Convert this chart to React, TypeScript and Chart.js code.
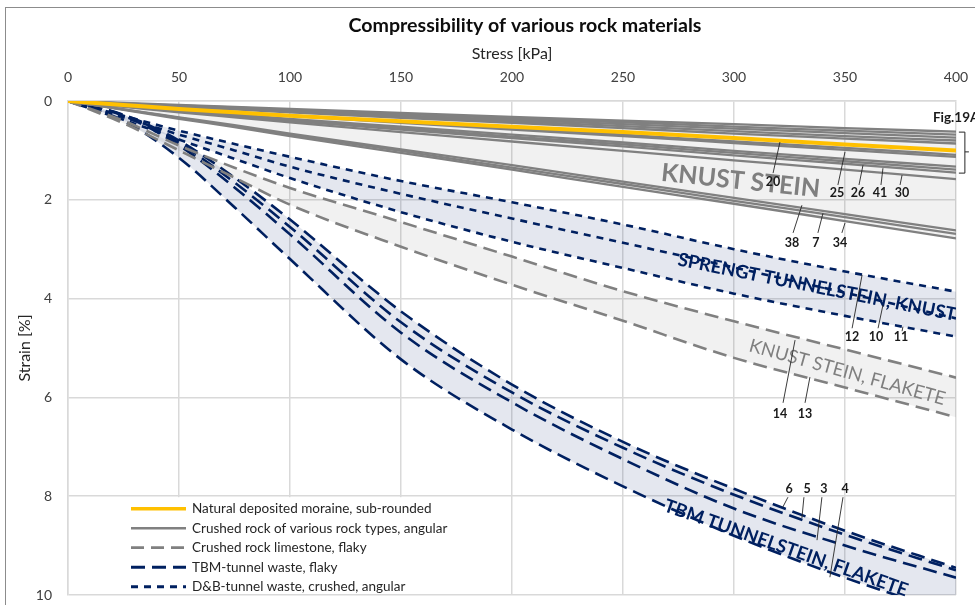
import React, { useEffect, useRef } from "react";
import { Chart, registerables } from "chart.js";

Chart.register(...registerables);

// ---------- data ----------
const stress = [0, 25, 50, 75, 100, 150, 200, 250, 300, 350, 400];

const moraine = [0, 0.08, 0.16, 0.23, 0.3, 0.41, 0.52, 0.63, 0.75, 0.88, 1.0];

const crushed1 = [0, 0.04, 0.08, 0.12, 0.16, 0.24, 0.32, 0.4, 0.47, 0.55, 0.62];
const crushed2 = [0, 0.05, 0.09, 0.13, 0.18, 0.26, 0.35, 0.43, 0.52, 0.6, 0.68];
const crushed3 = [0, 0.05, 0.1, 0.15, 0.19, 0.29, 0.38, 0.47, 0.56, 0.65, 0.74];
const crushed4 = [0, 0.06, 0.11, 0.16, 0.21, 0.31, 0.41, 0.51, 0.61, 0.71, 0.8];
const crushed5 = [0, 0.06, 0.12, 0.17, 0.23, 0.34, 0.44, 0.55, 0.66, 0.76, 0.86];
const crushed6 = [0, 0.08, 0.15, 0.22, 0.29, 0.42, 0.55, 0.68, 0.82, 0.95, 1.09];
const crushed7 = [0, 0.08, 0.16, 0.23, 0.3, 0.44, 0.58, 0.71, 0.85, 0.99, 1.13];
const crushed8 = [0, 0.1, 0.19, 0.27, 0.36, 0.52, 0.68, 0.84, 1.01, 1.17, 1.33];
const crushed9 = [0, 0.1, 0.2, 0.29, 0.38, 0.55, 0.72, 0.88, 1.05, 1.22, 1.39];
const crushed10 = [0, 0.11, 0.21, 0.3, 0.4, 0.58, 0.75, 0.92, 1.1, 1.27, 1.45];
const crushed11 = [0, 0.12, 0.23, 0.33, 0.43, 0.63, 0.82, 1.01, 1.2, 1.39, 1.58];
const crushed12 = [0, 0.17, 0.33, 0.49, 0.66, 0.98, 1.3, 1.63, 1.96, 2.29, 2.62];
const crushed13 = [0, 0.17, 0.34, 0.51, 0.68, 1.01, 1.35, 1.68, 2.02, 2.35, 2.69];
const crushed14 = [0, 0.18, 0.36, 0.53, 0.71, 1.05, 1.39, 1.74, 2.08, 2.43, 2.78];

const limestone1 = [0, 0.4, 0.9, 1.35, 1.76, 2.45, 3.15, 3.85, 4.46, 5.03, 5.6];
const limestone2 = [0, 0.45, 1.0, 1.55, 2.1, 2.95, 3.72, 4.45, 5.2, 5.8, 6.4];

const dnb1 = [0, 0.3, 0.6, 0.87, 1.13, 1.62, 2.05, 2.5, 3.0, 3.45, 3.86];
const dnb2 = [0, 0.33, 0.68, 1.0, 1.33, 1.88, 2.38, 2.87, 3.37, 3.88, 4.4];
const dnb3 = [0, 0.38, 0.78, 1.17, 1.56, 2.25, 2.85, 3.38, 3.9, 4.35, 4.77];

const tbm6 = [0, 0.28, 0.8, 1.55, 2.4, 4.26, 5.74, 6.9, 7.85, 8.7, 9.45];
const tbm5 = [0, 0.29, 0.85, 1.65, 2.55, 4.48, 5.9, 7.02, 7.97, 8.78, 9.5];
const tbm3 = [0, 0.3, 0.9, 1.75, 2.7, 4.69, 6.1, 7.25, 8.25, 9.0, 9.65];
const tbm4 = [0, 0.4, 1.15, 2.15, 3.2, 5.23, 6.65, 7.8, 8.8, 9.65, 10.4];

const crushedSeries = [
  crushed1, crushed2, crushed3, crushed4, crushed5, crushed6, crushed7,
  crushed8, crushed9, crushed10, crushed11, crushed12, crushed13, crushed14,
];
const limestoneSeries = [limestone1, limestone2];
const dnbSeries = [dnb1, dnb2, dnb3];
const tbmSeries = [tbm6, tbm5, tbm3, tbm4];

const xTicks = { min: 0, max: 400, step: 50 };
const yTicks = { min: 0, max: 10, step: 2 };

const chartTitle = "Compressibility of various rock materials";
const legendLabels = [
  "Natural deposited moraine, sub-rounded",
  "Crushed rock of various rock types, angular",
  "Crushed rock limestone, flaky",
  "TBM-tunnel waste, flaky",
  "D&B-tunnel waste, crushed, angular",
];

// ---------- styles ----------
const FONT = "Lato";
const YELLOW = "#FFC000";
const GRAY = "#808080";
const NAVY = "#002060";
const GRAY_FILL = "rgba(0,0,0,0.055)";
const BLUE_FILL = "rgba(31,56,120,0.12)";

const legendStyles = [
  { color: YELLOW, dash: [], width: 3.5 },
  { color: GRAY, dash: [], width: 2.5 },
  { color: GRAY, dash: [13, 7], width: 2.8 },
  { color: NAVY, dash: [14, 7], width: 3 },
  { color: NAVY, dash: [7, 6], width: 3 },
];

// annotations (in data coordinates: stress, strain)
const regionLabels = [
  { text: "KNUST STEIN", s: 303, e: 1.62, angle: 6, color: "#7f7f7f", font: `bold 25px ${FONT}` },
  { text: "SPRENGT TUNNELSTEIN, KNUST", s: 337.4, e: 3.77, angle: 11.3, color: NAVY, font: `bold 18.5px ${FONT}` },
  { text: "KNUST STEIN, FLAKETE", s: 351, e: 5.49, angle: 15.5, color: "#7f7f7f", font: `18.5px ${FONT}` },
  { text: "TBM TUNNELSTEIN, FLAKETE", s: 323.4, e: 9.05, angle: 19.5, color: NAVY, font: `bold 18.5px ${FONT}` },
];

const pointerLabels = [
  { text: "20", at: [317.6, 1.64], from: [320.7, 0.83], to: [317.6, 1.46] },
  { text: "25", at: [346.4, 1.86], from: [350, 1.03], to: [346.8, 1.7] },
  { text: "26", at: [355.9, 1.86], from: [358.1, 1.3], to: [356.3, 1.7] },
  { text: "41", at: [365.8, 1.86], from: [367.1, 1.36], to: [366.2, 1.7] },
  { text: "30", at: [375.7, 1.86], from: [375.7, 1.5], to: [374.8, 1.7] },
  { text: "38", at: [326.1, 2.87], from: [330.6, 2.11], to: [326.6, 2.67] },
  { text: "7", at: [336.9, 2.87], from: [340.1, 2.27], to: [337.8, 2.67] },
  { text: "34", at: [347.7, 2.87], from: [350, 2.47], to: [348.6, 2.67] },
  { text: "12", at: [353.2, 4.78], from: [357.7, 3.52], to: [353.2, 4.6] },
  { text: "10", at: [364, 4.78], from: [367.1, 4.13], to: [364.9, 4.6] },
  { text: "11", at: [375.2, 4.78], from: [376.1, 4.57], to: [375.7, 4.66] },
  { text: "14", at: [320.7, 6.34], from: [327.5, 4.84], to: [322.1, 6.11] },
  { text: "13", at: [332, 6.34], from: [334.2, 5.59], to: [332, 6.11] },
  { text: "6", at: [324.8, 7.85], from: [324.3, 8.02], to: [322, 8.22] },
  { text: "5", at: [332.9, 7.85], from: [331.5, 8.02], to: [330.6, 8.44] },
  { text: "3", at: [340.5, 7.85], from: [339.6, 8.02], to: [337.4, 8.89] },
  { text: "4", at: [350, 7.85], from: [349.1, 8.02], to: [343.2, 9.64] },
];

const pts = (vals: number[]) => stress.map((s, i) => ({ x: s, y: vals[i] }));

function buildDatasets() {
  const ds: any[] = [];
  const base = { pointRadius: 0, borderCapStyle: "butt", cubicInterpolationMode: "monotone" };
  ds.push({ ...base, label: legendLabels[0], data: pts(moraine), borderColor: YELLOW, borderWidth: 4, fill: false });
  const crushedStart = ds.length;
  crushedSeries.forEach((v, i) => {
    const last = i === crushedSeries.length - 1;
    ds.push({
      ...base, label: legendLabels[1], data: pts(v), borderColor: GRAY, borderWidth: 2.3,
      fill: last ? crushedStart : false, backgroundColor: GRAY_FILL,
    });
  });
  const limeStart = ds.length;
  limestoneSeries.forEach((v, i) => {
    const last = i === limestoneSeries.length - 1;
    ds.push({
      ...base, label: legendLabels[2], data: pts(v), borderColor: GRAY, borderWidth: 2.6,
      borderDash: [14, 7], fill: last ? limeStart : false, backgroundColor: GRAY_FILL,
    });
  });
  const dnbStart = ds.length;
  dnbSeries.forEach((v, i) => {
    const last = i === dnbSeries.length - 1;
    ds.push({
      ...base, label: legendLabels[4], data: pts(v), borderColor: NAVY, borderWidth: 2.6,
      borderDash: [7, 6], fill: last ? dnbStart : false, backgroundColor: BLUE_FILL,
    });
  });
  const tbmStart = ds.length;
  tbmSeries.forEach((v, i) => {
    const last = i === tbmSeries.length - 1;
    ds.push({
      ...base, label: legendLabels[3], data: pts(v), borderColor: NAVY, borderWidth: 2.6,
      borderDash: [14, 7], fill: last ? tbmStart : false, backgroundColor: BLUE_FILL,
    });
  });
  return ds;
}

const annotationPlugin = {
  id: "rockAnnotations",
  beforeDraw(chart: any) {
    const ctx = chart.ctx;
    ctx.save();
    ctx.fillStyle = "#ffffff";
    ctx.fillRect(0, 0, chart.width, chart.height);
    ctx.strokeStyle = "#8c8c8c";
    ctx.lineWidth = 1;
    ctx.strokeRect(5.5, 7.5, chart.width + 50, chart.height + 50);
    ctx.fillStyle = "#0d0d0d";
    ctx.font = `bold 19.6px ${FONT}`;
    ctx.textAlign = "center";
    ctx.textBaseline = "middle";
    ctx.fillText(chartTitle, 525, 26);
    ctx.restore();
  },
  afterDatasetsDraw(chart: any) {
    const { ctx, scales } = chart;
    const xs = scales.x;
    const ys = scales.y;
    const px = (s: number) => xs.getPixelForValue(s);
    const py = (e: number) => ys.getPixelForValue(e);
    const area = chart.chartArea;

    // region labels
    ctx.save();
    ctx.beginPath();
    ctx.rect(area.left, area.top, area.right - area.left, chart.height - area.top);
    ctx.clip();
    for (const r of regionLabels) {
      ctx.save();
      ctx.translate(px(r.s), py(r.e));
      ctx.rotate((r.angle * Math.PI) / 180);
      ctx.font = r.font;
      ctx.fillStyle = r.color;
      ctx.textAlign = "center";
      ctx.textBaseline = "middle";
      ctx.fillText(r.text, 0, 0);
      ctx.restore();
    }
    ctx.restore();

    // pointer labels
    ctx.save();
    ctx.strokeStyle = "#262626";
    ctx.lineWidth = 0.9;
    ctx.fillStyle = "#1a1a1a";
    ctx.font = `bold 12.5px ${FONT}`;
    ctx.textAlign = "center";
    ctx.textBaseline = "middle";
    for (const p of pointerLabels) {
      ctx.beginPath();
      ctx.moveTo(px(p.from[0]), py(p.from[1]));
      ctx.lineTo(px(p.to[0]), py(p.to[1]));
      ctx.stroke();
      ctx.fillText(p.text, px(p.at[0]), py(p.at[1]));
    }
    ctx.restore();

    // Fig.19A bracket
    ctx.save();
    ctx.strokeStyle = "#262626";
    ctx.lineWidth = 1;
    const bx = px(404);
    const bl = px(401.3);
    const br = px(405.8);
    const bt = py(0.63);
    const bb = py(1.46);
    const bm = py(1.03);
    ctx.beginPath();
    ctx.moveTo(bl, bt);
    ctx.lineTo(bx, bt);
    ctx.lineTo(bx, bb);
    ctx.lineTo(bl, bb);
    ctx.moveTo(bx, bm);
    ctx.lineTo(br, bm);
    ctx.stroke();
    ctx.fillStyle = "#1a1a1a";
    ctx.font = `bold 13.5px ${FONT}`;
    ctx.textAlign = "left";
    ctx.textBaseline = "middle";
    ctx.fillText("Fig.19A", px(389.6), py(0.34));
    ctx.restore();

    // legend box
    ctx.save();
    const top = py(8) + 1;
    const bottom = area.bottom - 1;
    const left = area.left + 1;
    const right = area.left + 412;
    ctx.fillStyle = "#ffffff";
    ctx.fillRect(left, top, right - left, bottom - top);
    ctx.font = `13.5px ${FONT}`;
    ctx.textBaseline = "middle";
    ctx.textAlign = "left";
    legendLabels.forEach((label, i) => {
      const st = legendStyles[i];
      const yy = top + 11.5 + i * 19.5;
      ctx.beginPath();
      ctx.strokeStyle = st.color;
      ctx.lineWidth = st.width;
      ctx.setLineDash(st.dash);
      ctx.moveTo(area.left + 63, yy);
      ctx.lineTo(area.left + 118, yy);
      ctx.stroke();
      ctx.setLineDash([]);
      ctx.fillStyle = "#262626";
      ctx.fillText(label, area.left + 124, yy);
    });
    ctx.restore();
  },
};

export default function App() {
  const ref = useRef<HTMLCanvasElement>(null);
  useEffect(() => {
    const canvas = ref.current;
    if (!canvas) return;
    const chart = new Chart(canvas, {
      type: "line",
      data: { datasets: buildDatasets() },
      options: {
        responsive: false,
        animation: false,
        events: [],
        layout: { padding: { left: 0, right: 19, top: 0, bottom: 10 } },
        plugins: {
          legend: { display: false },
          tooltip: { enabled: false },
          title: { display: false },
        },
        scales: {
          x: {
            type: "linear",
            position: "top",
            min: xTicks.min,
            max: xTicks.max,
            ticks: { stepSize: xTicks.step, font: { family: FONT, size: 14 }, color: "#404040", padding: 15 },
            grid: { color: "#d9d9d9", lineWidth: 1.5, drawTicks: false },
            border: { color: "#d9d9d9", width: 1.5 },
            title: {
              display: true,
              text: "Stress [kPa]",
              font: { family: FONT, size: 16 },
              color: "#262626",
              padding: { top: 44.4, bottom: 0 },
            },
            afterFit: (s: any) => {
              s.height = 101;
              s.paddingLeft = 0;
              s.paddingRight = 0;
            },
          },
          y: {
            type: "linear",
            reverse: true,
            min: yTicks.min,
            max: yTicks.max,
            ticks: { stepSize: yTicks.step, font: { family: FONT, size: 14 }, color: "#404040", padding: 16 },
            grid: { color: "#d9d9d9", lineWidth: 1.5, drawTicks: false },
            border: { color: "#d9d9d9", width: 1.5 },
            title: {
              display: true,
              text: "Strain [%]",
              font: { family: FONT, size: 16 },
              color: "#262626",
              padding: { top: 15, bottom: 0 },
            },
            afterFit: (s: any) => {
              s.width = 68;
              s.paddingTop = 0;
              s.paddingBottom = 0;
            },
          },
        },
      } as any,
      plugins: [annotationPlugin as any],
    });
    return () => chart.destroy();
  }, []);
  return (
    <div style={{ position: "absolute", left: 0, top: 0, width: 975, height: 605, background: "#fff" }}>
      <canvas ref={ref} width={975} height={605} style={{ display: "block" }} />
    </div>
  );
}
